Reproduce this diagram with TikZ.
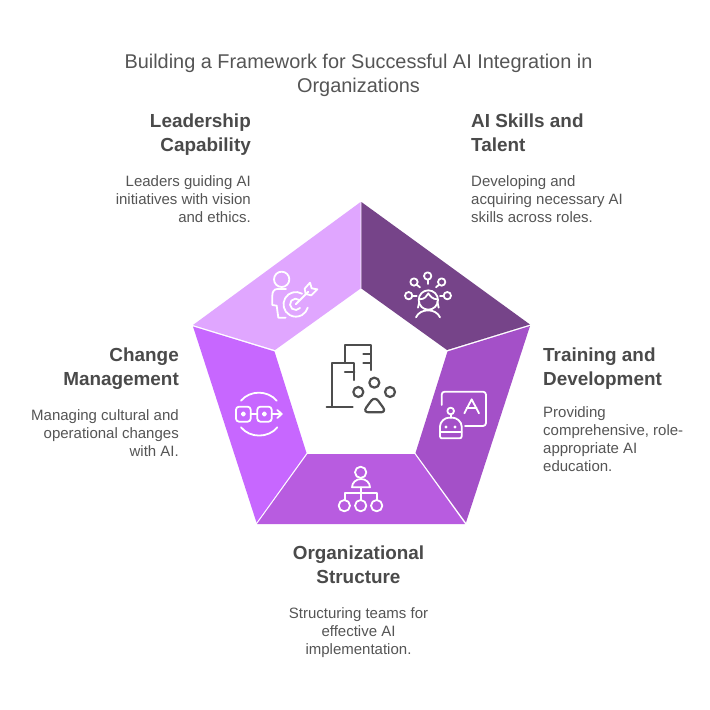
\documentclass[tikz,border=0pt]{standalone}
\usepackage{fontspec}
\setmainfont{Liberation Sans}
\usepackage{xcolor}
\usetikzlibrary{calc}
\definecolor{inktext}{HTML}{4A4A4A}
\definecolor{inktitle}{HTML}{555555}
\definecolor{seglead}{HTML}{E0A6FF}
\definecolor{segskill}{HTML}{764489}
\definecolor{segtrain}{HTML}{A450C8}
\definecolor{segorg}{HTML}{B85CE0}
\definecolor{segchange}{HTML}{C767FF}
\definecolor{inkicon}{HTML}{4D4D4D}

\begin{document}
\begin{tikzpicture}[x=1pt, y=-1pt]
        % ================= styles =================
        \tikzset{
            titletext/.style={font=\fontsize{19.9}{24}\selectfont, text=inktitle, align=center, inner sep=0pt},
            headleft/.style={font=\fontsize{18.9}{24}\selectfont\bfseries, text=inktext, align=left, anchor=north west, inner sep=0pt},
            headright/.style={font=\fontsize{18.9}{24}\selectfont\bfseries, text=inktext, align=right, anchor=north east, inner sep=0pt},
            headmid/.style={font=\fontsize{18.9}{24}\selectfont\bfseries, text=inktext, align=center, anchor=north, inner sep=0pt},
            bodyleft/.style={font=\fontsize{15}{18}\selectfont, text=inktitle, align=left, anchor=north west, inner sep=0pt},
            bodyright/.style={font=\fontsize{15}{18}\selectfont, text=inktitle, align=right, anchor=north east, inner sep=0pt},
            bodymid/.style={font=\fontsize{15}{18}\selectfont, text=inktitle, align=center, anchor=north, inner sep=0pt},
            whiteicon/.style={draw=white, line width=1.8pt, line cap=round, line join=round},
            darkicon/.style={draw=inkicon, line width=2.2pt, line cap=round, line join=round}
        }
        \useasboundingbox (0,0) rectangle (710,710);
        \fill[white] (0,0) rectangle (710,710);

        % ================= title =================
        \node[titletext] (title) at (358.5,75) {Building a Framework for Successful AI Integration in\\Organizations};

        % ================= pentagon segments =================
        \fill[seglead] (360.6,202) -- (360.6,288.5) -- (275,350) -- (193,325) -- cycle;
        \fill[segskill] (361.4,202) -- (530,324.5) -- (447,350) -- (361.4,288.5) -- cycle;
        \fill[segtrain] (530,326) -- (466,522.5) -- (415.5,453) -- (447.5,351.5) -- cycle;
        \fill[segorg] (465,524) -- (257,524) -- (307.5,454) -- (414.5,454) -- cycle;
        \fill[segchange] (193,326.5) -- (274.5,351.5) -- (306.5,453) -- (256.5,522.5) -- cycle;

        % ================= leadership icon =================
        \begin{scope}[shift={(180,190)}, scale=1/3]
            \draw[whiteicon] (305,268) circle (23);
            \draw[whiteicon] (318,297) -- (292,297) .. controls (282,297) and (277,306) .. (277,316) -- (277,345) -- (290,347) -- (295,383) -- (317,383);
            \draw[whiteicon] (366,311) arc (-60:-345:37);
            \draw[whiteicon] (358,330) arc (-50:-320:17);
            \draw[whiteicon] (347,343) -- (385,305);
            \draw[whiteicon] (374,296) -- (390,278) -- (395,295) -- (412,298) -- (394,316) -- (377,312) -- cycle;
        \end{scope}

        % ================= skills icon =================
        \begin{scope}[shift={(360,190)}, scale=1/3]
            \draw[whiteicon] (205,330) circle (29);
            \draw[whiteicon] (178,328) .. controls (195,328) and (200,318) .. (205,310) .. controls (210,318) and (218,328) .. (232,328);
            \draw[whiteicon] (178,335) -- (174,353);
            \draw[whiteicon] (232,335) -- (236,353);
            \draw[whiteicon] (168,382) .. controls (180,354) and (228,354) .. (240,382);
            \draw[whiteicon] (203,258) circle (11);
            \draw[whiteicon] (203,269) -- (203,282);
            \draw[whiteicon] (162,276) circle (11);
            \draw[whiteicon] (170,284) -- (180,292);
            \draw[whiteicon] (245,276) circle (11);
            \draw[whiteicon] (237,284) -- (228,292);
            \draw[whiteicon] (146,317) circle (11);
            \draw[whiteicon] (157,317) -- (170,317);
            \draw[whiteicon] (262,317) circle (11);
            \draw[whiteicon] (251,317) -- (240,317);
        \end{scope}

        % ================= centre icon =================
        \begin{scope}[shift={(300,330)}, scale=1/3]
            \draw[darkicon] (135,98) -- (135,45) -- (212,45) -- (212,120);
            \draw[darkicon] (190,73) -- (212,73);
            \draw[darkicon] (190,100) -- (212,100);
            \draw[darkicon] (95,230) -- (95,98) -- (163,98) -- (163,150);
            \draw[darkicon] (135,126) -- (163,126);
            \draw[darkicon] (80,230) -- (158,230);
            \draw[darkicon] (175,186) circle (15);
            \draw[darkicon] (223,158) circle (15);
            \draw[darkicon] (270,186) circle (15);
            \draw[darkicon, rounded corners=6pt] (224,198) -- (260,247) -- (188,247) -- cycle;
        \end{scope}

        % ================= training icon =================
        \begin{scope}[shift={(410,370)}, scale=1/3]
            \draw[whiteicon, rounded corners=3pt] (95,105) -- (95,65) -- (228,65) -- (228,168) -- (165,168);
            \draw[whiteicon] (163,130) -- (185,88) -- (207,130);
            \draw[whiteicon] (170,115) -- (200,115);
            \draw[whiteicon] (122,123) circle (10);
            \draw[whiteicon] (122,133) -- (122,143);
            \draw[whiteicon, rounded corners=2pt] (90,205) -- (90,175) .. controls (90,155) and (105,143) .. (122,143) .. controls (140,143) and (155,155) .. (155,175) -- (155,205) -- cycle;
            \draw[whiteicon] (90,186) -- (155,186);
            \fill[white] (108,171) circle (5);
            \fill[white] (135,171) circle (5);
        \end{scope}

        % ================= structure icon =================
        \begin{scope}[shift={(310,450)}, scale=1/3]
            \draw[whiteicon] (152,67) circle (17);
            \draw[whiteicon] (126,112) arc (180:360:27 and 25) -- cycle;
            \draw[whiteicon] (152,112) -- (152,150);
            \draw[whiteicon] (105,150) -- (105,130) -- (200,130) -- (200,150);
            \draw[whiteicon] (103,167) circle (17);
            \draw[whiteicon] (152,167) circle (17);
            \draw[whiteicon] (200,167) circle (17);
        \end{scope}

        % ================= change icon =================
        \begin{scope}[shift={(215,370)}, scale=1/3]
            \draw[whiteicon, rounded corners=3pt] (63,110) rectangle (107,155);
            \draw[whiteicon, rounded corners=3pt] (127,110) rectangle (170,155);
            \draw[whiteicon] (85,132) circle (5);
            \draw[whiteicon] (148,132) circle (5);
            \draw[whiteicon] (107,132) -- (127,132);
            \draw[whiteicon] (170,132) -- (200,132);
            \draw[whiteicon] (187,120) -- (200,132) -- (187,144);
            \draw[whiteicon] (78,92) .. controls (105,60) and (158,60) .. (185,92);
            \draw[whiteicon] (78,172) .. controls (105,205) and (160,205) .. (187,172);
        \end{scope}

        % ================= labels =================
        \node[headright] (leadhead) at (251,114) {Leadership\\Capability};
        \node[bodyright] (leadbody) at (251,175) {Leaders guiding AI\\initiatives with vision\\and ethics.};

        \node[headleft] (skillhead) at (471,114) {AI Skills and\\Talent};
        \node[bodyleft] (skillbody) at (471,175) {Developing and\\acquiring necessary AI\\skills across roles.};

        \node[headleft] (trainhead) at (543,348) {Training and\\Development};
        \node[bodyleft] (trainbody) at (543,406) {Providing\\comprehensive, role-\\appropriate AI\\education.};

        \node[headmid] (orghead) at (358.5,546) {Organizational\\Structure};
        \node[bodymid] (orgbody) at (358.5,607) {Structuring teams for\\effective AI\\implementation.};

        \node[headright] (changehead) at (179,348) {Change\\Management};
        \node[bodyright] (changebody) at (179,409) {Managing cultural and\\operational changes\\with AI.};
    \end{tikzpicture}
\end{document}
